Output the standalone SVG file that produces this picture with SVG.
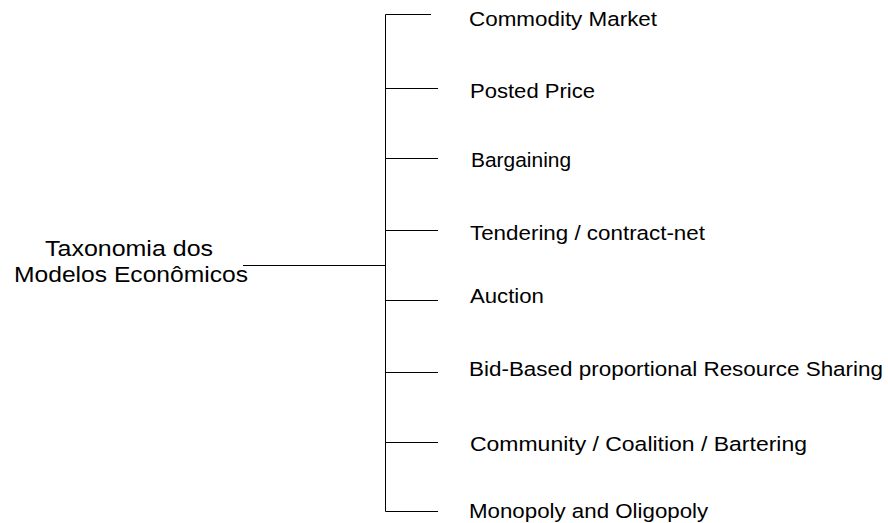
<svg xmlns="http://www.w3.org/2000/svg" width="888" height="523" viewBox="0 0 888 523">
<style>
.bg{fill:#ffffff}
.ln{stroke:#000000;stroke-width:1;fill:none}
.lbl{font-family:"Liberation Sans",Arial,sans-serif;font-size:19.5px;fill:#000000}
.root{font-family:"Liberation Sans",Arial,sans-serif;font-size:21.5px;fill:#000000}
</style>
<rect class="bg" x="0" y="0" width="888" height="523"/>
<g id="connectors">
<path class="ln" d="M243,265.5 H385.5"/>
<path class="ln" d="M385.5,14.5 V511.5"/>
<path class="ln" d="M385.5,14.5 H431"/>
<path class="ln" d="M385.5,88.5 H438"/>
<path class="ln" d="M385.5,158.5 H438"/>
<path class="ln" d="M385.5,230.5 H438"/>
<path class="ln" d="M385.5,300.5 H438"/>
<path class="ln" d="M385.5,372.5 H438"/>
<path class="ln" d="M385.5,442.5 H438"/>
<path class="ln" d="M385.5,511.5 H438"/>
</g>
<g id="root">
<text class="root" transform="translate(45,256) scale(1.14,1)" textLength="147.4" lengthAdjust="spacingAndGlyphs">Taxonomia dos</text>
<text class="root" transform="translate(14,281.5) scale(1.14,1)" textLength="205.3" lengthAdjust="spacingAndGlyphs">Modelos Econômicos</text>
</g>
<g id="n1"><text class="lbl" transform="translate(469,26) scale(1.15,1)" textLength="163.5" lengthAdjust="spacingAndGlyphs">Commodity Market</text></g>
<g id="n2"><text class="lbl" transform="translate(470,98) scale(1.15,1)" textLength="108.7" lengthAdjust="spacingAndGlyphs">Posted Price</text></g>
<g id="n3"><text class="lbl" transform="translate(471,167) scale(1.15,1)" textLength="87" lengthAdjust="spacingAndGlyphs">Bargaining</text></g>
<g id="n4"><text class="lbl" transform="translate(470,240) scale(1.15,1)" textLength="204.3" lengthAdjust="spacingAndGlyphs">Tendering / contract-net</text></g>
<g id="n5"><text class="lbl" transform="translate(470,303) scale(1.15,1)" textLength="64.3" lengthAdjust="spacingAndGlyphs">Auction</text></g>
<g id="n6"><text class="lbl" transform="translate(469,375.5) scale(1.15,1)" textLength="360" lengthAdjust="spacingAndGlyphs">Bid-Based proportional Resource Sharing</text></g>
<g id="n7"><text class="lbl" transform="translate(470,450.5) scale(1.15,1)" textLength="293" lengthAdjust="spacingAndGlyphs">Community / Coalition / Bartering</text></g>
<g id="n8"><text class="lbl" transform="translate(469,518) scale(1.15,1)" textLength="208" lengthAdjust="spacingAndGlyphs">Monopoly and Oligopoly</text></g>
</svg>
